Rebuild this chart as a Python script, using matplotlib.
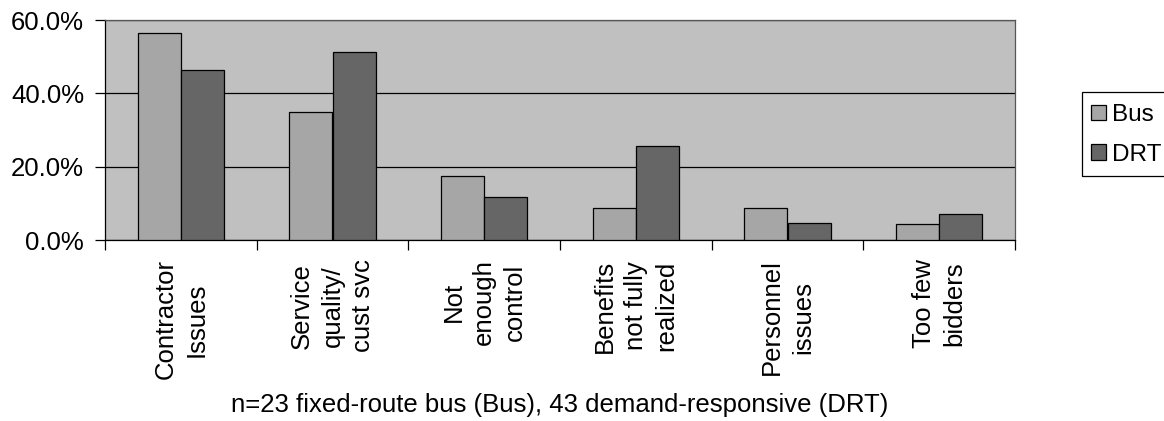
import numpy as np
import matplotlib
matplotlib.use('Agg')
import matplotlib.pyplot as plt
from matplotlib.patches import Rectangle
from matplotlib.ticker import PercentFormatter

plt.rcParams['font.family'] = ['Liberation Sans', 'DejaVu Sans']

categories = ["Contractor\nIssues", "Service\nquality/\ncust svc", "Not\nenough\ncontrol",
              "Benefits\nnot fully\nrealized", "Personnel\nissues", "Too few\nbidders"]
bus = [56.5, 34.8, 17.4, 8.7, 8.7, 4.3]
drt = [46.5, 51.2, 11.6, 25.6, 4.7, 7.0]
xlabel = "n=23 fixed-route bus (Bus), 43 demand-responsive (DRT)"

fs = 18.5
W, H = 1164, 421

fig = plt.figure(figsize=(W / 100, H / 100), dpi=100)
ax = fig.add_axes([105/W, 1 - 240/H, 910/W, 220/H])
ax.set_facecolor('#c0c0c0')

x = np.arange(len(categories))
w = 0.285
ax.bar(x - w/2, bus, w, color='#a6a6a6', edgecolor='black', linewidth=0.9, label='Bus', zorder=3)
ax.bar(x + w/2, drt, w, color='#666666', edgecolor='black', linewidth=0.9, label='DRT', zorder=3)

ax.set_xlim(-0.5, len(categories) - 0.5)
ax.set_ylim(0, 60)
ax.set_yticks([0, 20, 40, 60])
ax.yaxis.set_major_formatter(PercentFormatter(decimals=1))
ax.yaxis.grid(True, color='black', linewidth=0.9, zorder=1)

# boundaries get the tick marks, centres carry the labels
ax.set_xticks(np.arange(len(categories) + 1) - 0.5)
ax.set_xticklabels([])
ax.set_xticks(x, minor=True)
ax.set_xticklabels(categories, minor=True, rotation=90, va='top', ha='center',
                   multialignment='center', linespacing=1.35, fontsize=fs)
ax.tick_params(axis='x', which='minor', length=0, pad=14)
ax.tick_params(axis='x', which='major', length=7, width=0.9, direction='out')
ax.tick_params(axis='y', length=7, width=0.9, labelsize=fs, pad=8)

for s in ['top', 'right']:
    ax.spines[s].set_color('#555555')
    ax.spines[s].set_linewidth(0.9)
for s in ['left', 'bottom']:
    ax.spines[s].set_linewidth(0.9)

fig.text(0.481, 1 - 405/H, xlabel, ha='center', va='center', fontsize=fs)

# legend box runs past the right edge of the figure
fig.add_artist(Rectangle((1082/W, 1 - 176/H), 120/W, 84/H, transform=fig.transFigure,
                         fill=False, edgecolor='black', linewidth=0.9))
leg = fig.legend(loc='center left', bbox_to_anchor=(1091/W, 1 - 135/H),
                 fontsize=17.5, frameon=False,
                 handlelength=0.6, handleheight=0.6, handletextpad=0.28,
                 labelspacing=0.72, borderpad=0, borderaxespad=0)

fig.savefig('out.png', dpi=100)
